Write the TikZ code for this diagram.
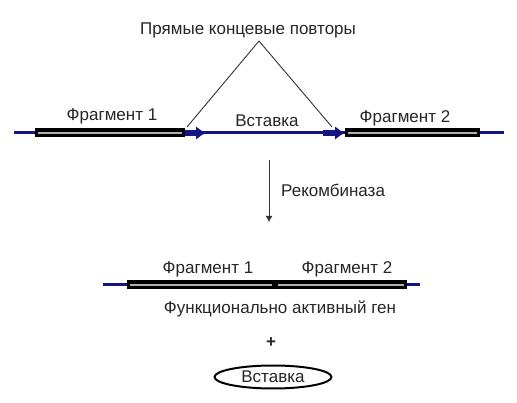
\documentclass[tikz,border=0pt]{standalone}
\usepackage{fontspec}
\setmainfont{Liberation Sans}
\usetikzlibrary{positioning,arrows.meta,shapes.geometric}
\definecolor{dnablue}{RGB}{20,20,130}

\begin{document}
\begin{tikzpicture}
                [x=1pt,y=-1pt,
                lbl/.style={font=\fontsize{17}{19}\selectfont,inner sep=0pt,text=black!85},
                dna/.style={draw=dnablue,line width=3pt},
                rep/.style={draw=dnablue,line width=6pt,-{Latex[length=10pt,width=14pt]}},
                frag/.style={draw=black,line width=9pt},
                core/.style={draw=gray!60,line width=1.6pt},
                thin/.style={draw=black!80,line width=0.9pt}]
                \useasboundingbox[fill=white] (0,0) rectangle (517,403);
                % top: fragment 1 - insert - fragment 2
                \coordinate (l0) at (14,133);
                \coordinate (r0) at (504,133);
                \coordinate (f1a) at (35,133);
                \coordinate (f1b) at (185,133);
                \coordinate (p1) at (206,133);
                \coordinate (p2a) at (323,133);
                \coordinate (f2a) at (345,133);
                \coordinate (f2b) at (480,133);
                \path[dna] (l0) -- (r0);
                \path[frag] (f1a) -- (f1b);
                \path[core,shorten <=3pt,shorten >=3pt] (f1a) -- (f1b);
                \path[frag] (f2a) -- (f2b);
                \path[core,shorten <=3pt,shorten >=3pt] (f2a) -- (f2b);
                \path[rep] (f1b) -- (p1);
                \path[rep] (p2a) -- (f2a);
                \node[lbl] (frag1) at (112,116) {Фрагмент 1};
                \node[lbl] (ins) at (267,121) {Вставка};
                \node[lbl] (frag2) at (405,118) {Фрагмент 2};
                % direct terminal repeats
                \node[lbl] (rep) at (248,30) {Прямые концевые повторы};
                \coordinate (apex) at (259,41);
                \coordinate (ra) at (187,127);
                \coordinate (rb) at (332,127);
                \path[thin] (ra) -- (apex) -- (rb);
                % recombinase
                \coordinate (rk0) at (269,160);
                \coordinate (rk1) at (269,222);
                \path[thin,-{Latex[length=6pt,width=7pt]}] (rk0) -- (rk1);
                \node[lbl,anchor=west] (rec) at (281,190) {Рекомбиназа};
                % bottom: active gene
                \coordinate (b0) at (103,285);
                \coordinate (b1) at (420,285);
                \coordinate (g0) at (127,285);
                \coordinate (gm) at (275,285);
                \coordinate (g1) at (407,285);
                \path[dna] (b0) -- (b1);
                \path[frag] (g0) -- (g1);
                \path[core,shorten <=3pt,shorten >=3pt] (g0) -- (gm);
                \path[core,shorten <=3pt,shorten >=3pt] (gm) -- (g1);
                \node[lbl] (bfrag1) at (208,269) {Фрагмент 1};
                \node[lbl] (bfrag2) at (347,269) {Фрагмент 2};
                \node[lbl] (gene) at (280,309) {Функционально активный ген};
                \node[lbl] (plus) at (271,343) {\textbf{+}};
                \node[lbl,ellipse,draw=black,line width=2pt,minimum width=117pt,minimum height=23pt]
                        (free) at (273,377) {Вставка};
            \end{tikzpicture}
\end{document}
